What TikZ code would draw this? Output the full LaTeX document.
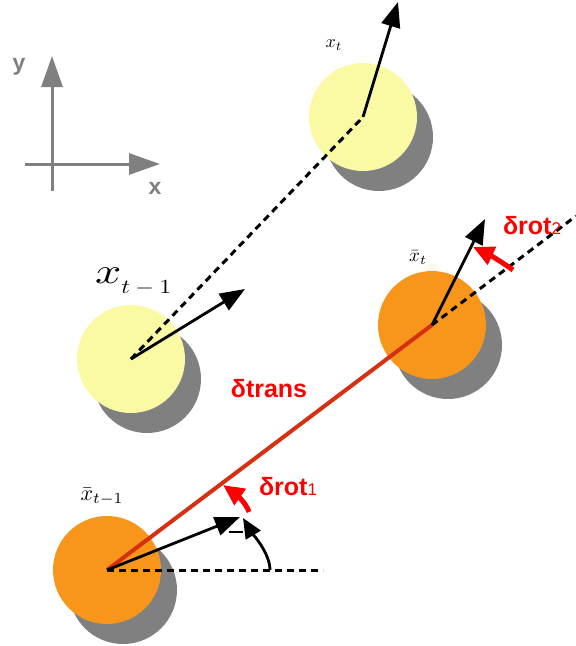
\documentclass[tikz,border=0pt]{standalone}
\usepackage{fontspec}
\setsansfont{Liberation Sans}
\usepackage{graphicx}
\usetikzlibrary{arrows.meta}
\definecolor{shadowgray}{RGB}{128,128,128}
\definecolor{ylw}{RGB}{250,250,165}
\definecolor{orng}{RGB}{248,150,28}
\definecolor{redline}{RGB}{214,48,18}
\definecolor{lblred}{RGB}{255,0,0}
\definecolor{axgray}{RGB}{128,128,128}
\begin{document}
\begin{tikzpicture}[x=1pt,y=-1pt,
  robot/.style={circle, minimum size=108pt, inner sep=0pt, draw=none},
  shadowc/.style={circle, minimum size=108pt, inner sep=0pt, fill=shadowgray},
  heading/.style={line width=2.8pt, -{Triangle[length=25pt,width=19pt]}},
  smallhead/.style={line width=2.8pt, -{Triangle[length=20pt,width=17pt]}},
  dashline/.style={line width=3pt, dash pattern=on 7pt off 5pt},
  redarc/.style={line width=5pt, color=lblred, -{Triangle[length=21pt,width=19pt]}},
  axisarrow/.style={line width=3pt, axgray, -{Triangle[length=31pt,width=21pt]}},
  axislbl/.style={text=axgray, font=\sffamily\bfseries\fontsize{23}{23}\selectfont, inner sep=0pt},
  redlbl/.style={text=lblred, font=\sffamily\bfseries\fontsize{25}{25}\selectfont, inner sep=0pt},
  mathlbl/.style={inner sep=0pt}
]
\useasboundingbox (0,0) rectangle (576,646);

% axes
\coordinate (O) at (52,164);
\coordinate (xs) at (25,164);
\coordinate (ys) at (52,191);
\coordinate (xe) at (160,164);
\coordinate (ye) at (52,56);
\draw[line width=3pt, axgray] (xs) -- (O);
\draw[line width=3pt, axgray] (ys) -- (O);
\draw[axisarrow] (O) -- (xe);
\draw[axisarrow] (O) -- (ye);
\node[axislbl] (ylbl) at (19,67) {y};
\node[axislbl] (xlbl) at (155,188) {x};

% shadows
\node[shadowc] (As) at (379,137) {};
\node[shadowc] (Bs) at (147,379) {};
\node[shadowc] (Cs) at (448,345) {};
\node[shadowc] (Ds) at (123,590) {};

% robots
\node[robot, fill=ylw] (A) at (363,117) {};
\node[robot, fill=ylw] (B) at (131,359) {};
\node[robot, fill=orng] (C) at (432,325) {};
\node[robot, fill=orng] (D) at (107,570) {};

% tips and line ends
\coordinate (At) at (398,2);
\coordinate (Bt) at (245,289);
\coordinate (Ct) at (485,219);
\coordinate (Dt) at (240,517);
\coordinate (Cx) at (576,216);
\coordinate (Dx) at (323,570);
\coordinate (dashL) at (229,532);
\coordinate (dashR) at (243,532);

% dashed lines
\draw[dashline] (B.center) -- (A.center);
\draw[dashline] (C.center) -- (Cx);
\draw[dashline] (D.center) -- (Dx);

% translation
\draw[line width=4pt, redline] (D.center) -- (C.center);

% headings
\draw[heading] (A.center) -- (At);
\draw[heading] (B.center) -- (Bt);
\draw[heading] (C.center) -- (Ct);
\draw[heading] (D.center) -- (Dt);

% angle arcs
\coordinate (k1) at (270,570);
\coordinate (k2) at (243,518);
\draw[smallhead] (k1) .. controls (270,553) and (252,533) .. (k2);
\draw[line width=2pt] (dashL) -- (dashR);

\coordinate (r1s) at (249,512);
\coordinate (r1e) at (223,485);
\draw[redarc] (r1s) .. controls (246,502) and (233,492) .. (r1e);
\coordinate (r2s) at (513,270);
\coordinate (r2e) at (473,247);
\draw[redarc] (r2s) .. controls (502,262) and (488,254) .. (r2e);

% labels
\node[mathlbl] (lAt) at (334,45) {\scalebox{1.8}{$x_t$}};
\node[mathlbl, anchor=base west] (lBt) at (95,283) {\scalebox{4.6}[3.6]{$x$}\raisebox{-10pt}{\scalebox{2.4}[2.0]{$t-1$}}};
\node[mathlbl] (lCt) at (418,258) {\scalebox{1.9}{$\bar{x}_t$}};
\node[mathlbl] (lDt) at (102,497) {\scalebox{2.2}{$\bar{x}_{t-1}$}};
\node[redlbl] (ltrans) at (269,389) {δtrans};
\node[redlbl] (lrot2) at (532,226) {δrot{\mdseries\fontsize{17}{17}\selectfont 2}};
\node[redlbl] (lrot1) at (288,487) {δrot{\mdseries\fontsize{17}{17}\selectfont 1}};
\end{tikzpicture}
\end{document}
